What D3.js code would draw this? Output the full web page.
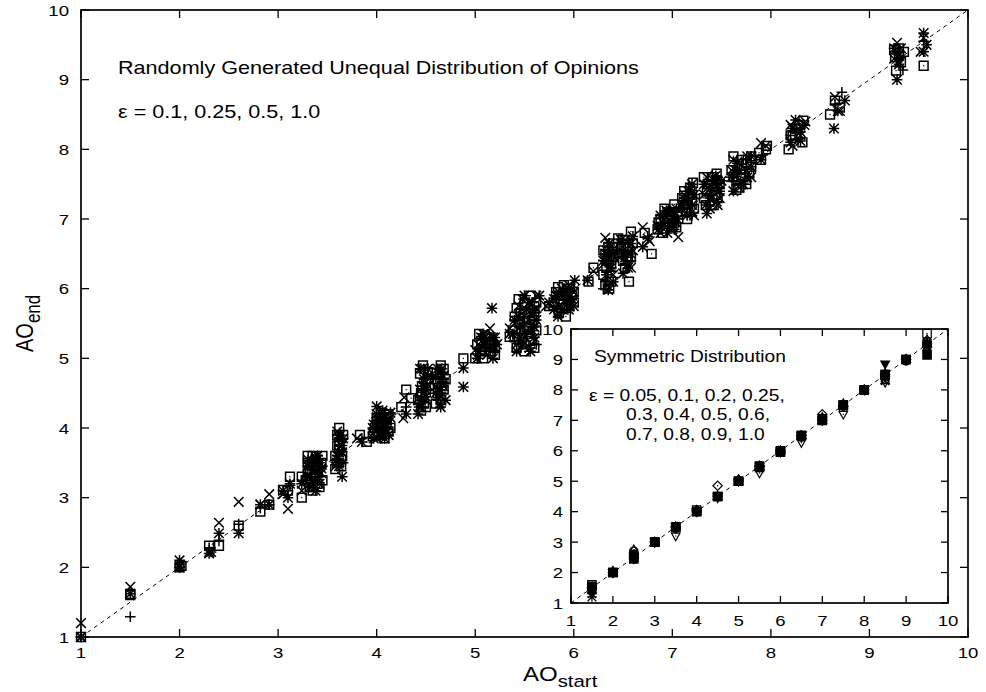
<!DOCTYPE html>
<html><head><meta charset="utf-8">
<script src="https://cdn.jsdelivr.net/npm/d3@7"></script>
<style>body{margin:0;background:#fff} text{font-family:"Liberation Sans",Arial,sans-serif;fill:#000}</style>
</head><body><svg id="c" width="986" height="692"></svg>
<script>
// ---------- data ----------
const axisTicks = [1,2,3,4,5,6,7,8,9,10];
const mainLabel1 = "Randomly Generated Unequal Distribution of Opinions";
const mainLabel2 = "ε = 0.1, 0.25, 0.5, 1.0";
const insetLabel1 = "Symmetric Distribution";
const insetLabel2 = ["ε = 0.05, 0.1, 0.2, 0.25,", "0.3, 0.4, 0.5, 0.6,", "0.7, 0.8, 0.9, 1.0"];

// main plot series [AO_start, AO_end]
const eps010 = [[1.0,1.0],[1.5,1.29],[2.0,2.0],[2.3,2.28],[2.4,2.39],[2.6,2.62],[2.82,2.85],[2.9,2.9],[3.1,3.1],[3.12,3.18],[3.25,3.25],[3.33,3.3],[3.38,3.4],[3.45,3.45],[3.6,3.55],[3.65,3.66],[3.85,3.85],[4.0,4.0],[4.05,4.08],[4.1,4.1],[4.3,4.3],[4.45,4.45],[4.5,4.55],[4.65,4.6],[4.68,4.7],[5.05,5.05],[5.15,5.15],[5.45,5.45],[5.5,5.5],[5.55,5.6],[5.6,5.55],[5.85,5.85],[5.95,5.95],[6.0,6.02],[6.35,6.35],[6.4,6.4],[6.5,6.5],[6.55,6.55],[6.75,6.75],[6.9,6.9],[7.0,7.0],[7.15,7.15],[7.2,7.2],[7.4,7.4],[7.45,7.45],[7.65,7.65],[7.7,7.7],[7.75,7.75],[7.92,7.92],[8.2,8.2],[8.3,8.3],[8.65,8.65],[8.72,8.82],[9.3,9.3],[9.34,9.14],[9.55,9.55],
  [3.3,3.2],[3.35,3.5],[3.42,3.3],[3.4,3.55],[3.62,3.75],[3.6,3.9],[3.66,3.5],[3.98,3.95],[4.08,4.2],[4.12,3.98],[4.47,4.3],[4.5,4.7],[4.45,4.85],[4.62,4.4],[4.67,4.8],[5.08,5.2],[5.15,5.3],[5.2,5.1],[5.4,5.25],[5.45,5.7],[5.52,5.35],[5.58,5.8],[5.62,5.2],[5.82,5.75],[5.9,6.0],[5.97,5.8],[6.32,6.1],[6.36,6.55],[6.38,6.25],[6.48,6.65],[6.58,6.4],[6.88,6.95],[6.95,7.1],[7.02,6.85],[7.12,7.3],[7.18,7.1],[7.35,7.5],[7.42,7.25],[7.46,7.6],[7.62,7.55],[7.72,7.85],[7.78,7.6],[8.25,8.15],[8.32,8.35],[9.28,9.4],
  [5.42,5.6],[5.5,5.35],[5.56,5.15],[5.6,5.75],[5.88,5.9],[5.94,5.7],[6.34,6.6],[6.3,6.0],[6.52,6.35],[6.56,6.7],[6.9,7.05],[7.04,7.1],[7.14,7.4],[7.2,7.05],[7.38,7.2],[7.44,7.55],[7.66,7.8],[7.74,7.5],[4.02,4.15],[4.1,3.9],[4.46,4.6],[4.66,4.5],[5.1,5.1],[5.18,5.25]];
const eps025 = [[1.0,1.2],[1.0,1.0],[1.5,1.72],[2.0,2.02],[2.3,2.22],[2.4,2.64],[2.6,2.94],[2.82,2.9],[2.91,3.05],[3.05,3.05],[3.1,2.84],[3.24,3.1],[3.3,3.3],[3.35,3.4],[3.4,3.55],[3.42,3.2],[3.6,3.55],[3.65,3.65],[3.62,3.85],[3.8,3.85],[3.97,4.05],[4.0,3.85],[4.05,4.2],[4.1,3.95],[4.27,4.14],[4.28,4.44],[4.45,4.3],[4.5,4.6],[4.48,4.75],[4.65,4.45],[4.62,4.8],[5.0,5.12],[5.15,5.43],[5.1,5.25],[5.35,5.43],[5.35,5.35],[5.45,5.3],[5.5,5.6],[5.55,5.8],[5.6,5.45],[5.62,5.72],[5.72,5.75],[5.85,5.75],[5.9,5.9],[5.95,6.05],[6.2,6.25],[6.32,6.73],[6.35,6.45],[6.4,6.2],[6.5,6.6],[6.55,6.35],[6.7,6.88],[6.77,6.68],[6.85,6.9],[6.95,7.1],[7.0,6.85],[7.06,6.74],[7.15,7.3],[7.2,7.1],[7.35,7.6],[7.4,7.3],[7.48,7.5],[7.6,7.7],[7.7,7.55],[7.78,7.85],[7.9,8.09],[7.95,8.05],[8.2,8.35],[8.3,8.2],[8.65,8.75],[8.7,8.55],[9.28,9.53],[9.3,9.25],[9.55,9.6],[9.52,9.4],
  [3.32,3.45],[3.38,3.15],[3.44,3.35],[3.3,3.55],[3.36,3.25],[3.58,3.45],[3.64,3.75],[3.6,3.95],[3.96,3.92],[4.02,4.12],[4.08,4.02],[4.14,4.15],[4.04,3.88],[4.44,4.55],[4.5,4.4],[4.46,4.85],[4.6,4.6],[4.68,4.75],[4.64,4.35],[5.03,5.2],[5.12,5.05],[5.18,5.3],[5.4,5.5],[5.42,5.2],[5.48,5.85],[5.52,5.4],[5.58,5.65],[5.6,5.25],[5.55,5.15],[5.8,5.85],[5.88,6.0],[5.95,5.7],[6.0,5.95],[6.3,6.35],[6.34,6.05],[6.38,6.6],[6.46,6.45],[6.52,6.7],[6.6,6.55],[6.88,6.8],[6.92,7.0],[7.0,7.12],[7.04,6.95],[7.1,7.2],[7.16,7.4],[7.22,7.05],[7.32,7.35],[7.38,7.15],[7.44,7.55],[7.48,7.3],[7.62,7.85],[7.68,7.45],[7.75,7.7],[7.8,7.6],[8.22,8.05],[8.28,8.3],[8.35,8.4],[9.25,9.3],[9.32,9.45],
  [5.44,5.75],[5.5,5.3],[5.58,5.5],[5.62,5.9],[5.84,5.65],[5.92,5.8],[6.36,6.3],[6.4,6.5],[6.5,6.5],[6.58,6.3],[6.94,6.9],[7.02,7.05],[7.12,7.35],[7.18,7.25],[7.36,7.45],[7.46,7.2],[7.64,7.6],[7.76,7.9],[4.0,4.2],[4.12,3.9],[4.48,4.5],[4.68,4.6],[5.06,5.3],[5.2,5.15]];
const eps050 = [[1.0,1.0],[1.5,1.62],[2.0,2.1],[2.0,2.0],[2.3,2.2],[2.32,2.22],[2.4,2.49],[2.6,2.49],[2.82,2.9],[2.91,2.9],[3.05,3.1],[3.1,3.0],[3.12,3.2],[3.24,3.2],[3.32,3.15],[3.35,3.25],[3.4,3.35],[3.42,3.5],[3.3,3.45],[3.38,3.58],[3.65,3.3],[3.62,3.45],[3.6,3.6],[3.65,3.75],[3.63,3.9],[3.85,3.8],[4.0,4.31],[3.97,3.85],[4.02,4.0],[4.08,4.15],[4.12,3.9],[4.06,4.25],[4.3,4.2],[4.42,4.2],[4.45,4.4],[4.5,4.55],[4.48,4.7],[4.52,4.85],[4.6,4.5],[4.65,4.3],[4.68,4.65],[4.66,4.85],[4.88,4.86],[4.88,4.59],[5.02,5.0],[5.1,5.2],[5.2,5.3],[5.17,5.72],[5.42,5.1],[5.45,5.3],[5.5,5.5],[5.52,5.7],[5.58,5.4],[5.6,5.65],[5.65,5.9],[5.75,5.8],[5.8,5.7],[5.85,5.95],[5.92,5.85],[6.0,5.75],[6.01,6.12],[6.14,6.12],[6.35,5.98],[6.33,6.2],[6.38,6.5],[6.5,6.22],[6.52,6.45],[6.58,6.65],[6.7,6.6],[6.75,6.72],[6.9,6.95],[6.95,6.8],[7.02,7.05],[7.15,7.05],[7.22,7.35],[7.35,7.08],[7.4,7.45],[7.45,7.25],[7.5,7.55],[7.62,7.4],[7.68,7.7],[7.8,7.9],[7.9,7.85],[8.2,8.1],[8.25,8.42],[8.3,8.25],[8.64,8.3],[8.68,8.55],[8.75,8.7],[9.3,9.35],[9.28,9.0],[9.55,9.4],[9.55,9.67],[9.58,9.5],
  [3.3,3.3],[3.34,3.52],[3.38,3.1],[3.44,3.42],[3.4,3.6],[3.6,3.5],[3.66,3.85],[3.62,3.65],[3.96,4.0],[4.04,3.95],[4.1,4.05],[4.14,4.22],[4.0,4.15],[4.43,4.3],[4.47,4.6],[4.5,4.45],[4.52,4.75],[4.6,4.72],[4.64,4.55],[4.7,4.4],[5.04,5.1],[5.1,5.3],[5.18,5.0],[5.22,5.2],[5.38,5.35],[5.44,5.6],[5.48,5.2],[5.55,5.8],[5.6,5.3],[5.62,5.55],[5.46,5.45],[5.82,5.9],[5.88,5.7],[5.95,6.0],[5.98,5.85],[6.3,6.4],[6.36,6.65],[6.4,6.1],[6.46,6.55],[6.55,6.3],[6.6,6.75],[6.86,6.85],[6.94,7.12],[7.0,6.92],[7.05,7.0],[7.1,7.15],[7.18,7.42],[7.2,7.2],[7.32,7.5],[7.38,7.3],[7.44,7.62],[7.48,7.4],[7.6,7.6],[7.66,7.82],[7.72,7.5],[7.8,7.75],[8.22,8.3],[8.3,8.12],[8.34,8.35],[9.3,9.22],[9.25,9.45],
  [5.4,5.55],[5.5,5.9],[5.56,5.1],[5.6,5.45],[5.84,5.6],[5.96,5.75],[6.32,6.5],[6.38,6.3],[6.48,6.7],[6.58,6.5],[6.88,7.05],[7.04,7.15],[7.12,7.25],[7.2,7.5],[7.34,7.2],[7.42,7.55],[7.64,7.7],[7.76,7.6],[4.02,4.1],[4.08,3.85],[4.44,4.85],[4.62,4.85],[5.08,5.35],[5.14,5.15]];
const eps100 = [[1.0,1.0],[1.5,1.6],[1.5,1.62],[2.0,2.0],[2.02,2.02],[2.3,2.31],[2.4,2.31],[2.6,2.6],[2.82,2.8],[2.91,2.9],[3.05,3.11],[3.12,3.3],[3.1,3.1],[3.24,3.0],[3.24,3.3],[3.3,3.6],[3.35,3.6],[3.45,3.6],[3.3,3.5],[3.35,3.1],[3.4,3.2],[3.38,3.3],[3.32,3.4],[3.42,3.15],[3.62,4.0],[3.6,3.9],[3.62,3.8],[3.58,3.41],[3.6,3.5],[3.65,3.6],[3.62,3.7],[3.83,3.9],[3.9,3.8],[3.98,4.0],[4.02,3.9],[4.05,4.1],[4.1,4.05],[4.12,4.2],[4.0,4.15],[4.25,4.3],[4.35,4.43],[4.3,4.55],[4.47,4.9],[4.45,4.5],[4.5,4.65],[4.48,4.35],[4.52,4.8],[4.45,4.25],[4.65,4.9],[4.62,4.7],[4.68,4.55],[4.65,4.4],[4.88,5.0],[5.0,5.0],[5.05,5.1],[5.1,5.33],[5.15,5.2],[5.2,5.05],[5.35,5.31],[5.42,5.72],[5.56,5.9],[5.45,5.5],[5.5,5.2],[5.55,5.35],[5.6,5.6],[5.4,5.3],[5.62,5.8],[5.75,5.75],[5.92,5.6],[5.85,5.9],[5.9,6.05],[5.95,5.75],[6.0,5.95],[6.15,6.1],[6.2,6.3],[6.33,6.3],[6.35,6.6],[6.38,6.1],[6.4,6.45],[6.58,6.82],[6.56,6.1],[6.5,6.4],[6.55,6.6],[6.45,6.72],[6.79,6.5],[6.72,6.8],[6.85,6.85],[6.95,7.0],[7.02,7.21],[7.0,6.9],[7.05,7.1],[7.21,7.52],[7.15,7.0],[7.2,7.25],[7.32,7.6],[7.35,7.4],[7.4,7.2],[7.45,7.65],[7.42,7.2],[7.65,7.42],[7.62,7.9],[7.7,7.6],[7.75,7.8],[7.8,7.9],[7.88,7.95],[7.95,8.0],[8.18,8.0],[8.33,8.41],[8.25,8.3],[8.2,8.2],[8.6,8.5],[8.65,8.7],[8.7,8.6],[9.25,9.43],[9.3,9.35],[9.27,9.13],[9.35,9.4],[9.55,9.2],
  [3.28,3.25],[3.32,3.15],[3.36,3.45],[3.4,3.4],[3.44,3.5],[3.3,3.35],[3.38,3.55],[3.45,3.25],[3.58,3.6],[3.64,3.45],[3.66,3.9],[3.6,3.75],[3.64,3.55],[3.96,3.88],[4.0,4.05],[4.06,3.95],[4.1,4.15],[4.14,4.0],[4.04,4.22],[4.08,3.85],[4.42,4.4],[4.46,4.6],[4.5,4.3],[4.52,4.7],[4.44,4.78],[4.6,4.35],[4.64,4.8],[4.66,4.6],[4.7,4.7],[4.62,4.5],[5.02,5.2],[5.08,5.0],[5.14,5.3],[5.2,5.15],[5.04,5.35],[5.38,5.4],[5.42,5.15],[5.46,5.65],[5.5,5.8],[5.52,5.45],[5.56,5.25],[5.6,5.75],[5.62,5.4],[5.48,5.3],[5.58,5.55],[5.8,5.8],[5.85,5.65],[5.9,5.9],[5.96,6.0],[6.0,5.8],[5.84,6.02],[6.3,6.2],[6.32,6.5],[6.36,6.0],[6.4,6.65],[6.34,6.4],[6.46,6.5],[6.5,6.7],[6.55,6.45],[6.6,6.65],[6.52,6.3],[6.86,6.95],[6.9,6.8],[6.95,7.1],[7.0,7.0],[7.04,6.88],[7.1,7.3],[7.14,7.1],[7.18,7.45],[7.22,7.15],[7.12,7.4],[7.32,7.3],[7.36,7.5],[7.4,7.6],[7.44,7.35],[7.48,7.5],[7.6,7.7],[7.65,7.55],[7.7,7.85],[7.75,7.5],[7.8,7.75],[7.9,7.85],[7.96,8.05],[8.22,8.2],[8.28,8.35],[8.32,8.1],[9.26,9.32],[9.32,9.25],[9.3,9.45],
  [5.4,5.6],[5.44,5.85],[5.5,5.1],[5.54,5.65],[5.6,5.15],[5.82,5.95],[5.88,5.72],[5.98,5.9],[6.3,6.55],[6.38,6.35],[6.32,6.05],[6.48,6.6],[6.58,6.45],[6.88,7.0],[6.92,7.15],[7.02,6.95],[7.12,7.2],[7.2,7.35],[7.34,7.2],[7.42,7.45],[7.46,7.3],[7.62,7.6],[7.68,7.45],[7.78,7.65],[4.04,4.1],[4.12,3.95],[4.46,4.45],[4.5,4.55],[4.62,4.65],[4.68,4.85],[5.06,5.25],[5.16,5.1]];

// inset series: AO_start values and AO_end for each epsilon
const insetX = [1.5,2,2.5,3,3.5,4,4.5,5,5.5,6,6.5,7,7.5,8,8.5,9,9.5];
const sym005 = [1.45,2.0,2.45,3.0,3.5,4.0,4.5,5.0,5.5,5.95,6.5,7.0,7.5,8.0,8.5,9.0,9.5];
const sym010 = [1.3,2.0,2.5,3.0,3.45,4.0,4.5,5.0,5.45,5.95,6.5,7.0,7.45,8.0,8.3,9.0,9.55];
const sym020 = [1.2,2.0,2.5,3.0,3.5,4.0,4.5,5.0,5.5,5.95,6.5,7.0,7.5,8.0,8.4,9.0,9.45];
const sym025 = [1.6,2.0,2.5,3.0,3.5,4.05,4.5,5.0,5.5,6.0,6.5,7.05,7.5,8.0,8.5,9.0,9.85];
const sym030 = [1.55,2.0,2.45,3.0,3.5,4.0,4.5,5.0,5.45,5.95,6.5,7.0,7.5,8.0,8.5,9.0,9.15];
const sym040 = [1.5,2.0,2.7,3.0,3.45,4.0,4.5,5.0,5.45,5.95,6.45,7.0,7.5,8.0,8.45,9.0,9.6];
const sym050 = [1.5,2.0,2.6,3.0,3.5,4.0,4.5,5.0,5.5,5.95,6.5,7.05,7.5,8.0,8.5,8.95,9.5];
const sym060 = [1.45,2.0,2.75,3.0,3.5,4.0,4.5,5.05,5.5,6.0,6.5,7.1,7.5,8.0,8.3,9.0,9.65];
const sym070 = [1.4,2.05,2.55,3.0,3.5,4.0,4.5,5.0,5.45,6.0,6.5,7.0,7.55,8.0,8.55,9.0,9.55];
const sym080 = [1.35,2.0,2.45,3.0,3.2,4.0,4.45,5.0,5.27,5.95,6.27,7.0,7.2,8.0,8.25,9.0,9.4];
const sym090 = [1.5,2.0,2.5,3.0,3.5,4.0,4.5,5.0,5.5,6.0,6.5,7.0,7.5,8.0,8.85,9.0,9.5];
const sym100 = [1.5,2.0,2.5,3.0,3.5,4.05,4.85,5.05,5.5,6.0,6.5,7.2,7.45,8.0,8.5,9.0,9.4];

// ---------- drawing ----------
const svg = d3.select("#c");
const SX = 1.2; // horizontal text stretch of original

function stext(g, x, y, str, size, anchor, rot) {
  const t = g.append("text")
    .attr("transform", `translate(${x},${y})` + (rot ? ` rotate(${rot})` : "") + ` scale(${rot ? 1 : SX},${rot ? SX : 1})`)
    .attr("font-size", size).attr("text-anchor", anchor || "start");
  if (Array.isArray(str)) {
    str.forEach(([s, sub]) => {
      const ts = t.append("tspan").text(s);
      if (sub) ts.attr("font-size", size * 0.85).attr("dy", size * 0.3);
    });
  } else t.text(str);
  return t;
}

const shapes = {
  plus: s => `M${-s},0H${s}M0,${-s}V${s}`,
  cross: s => `M${-s},${-s}L${s},${s}M${-s},${s}L${s},${-s}`,
  star: s => `M${-s},0H${s}M0,${-s}V${s}M${-s*0.9},${-s*0.9}L${s*0.9},${s*0.9}M${-s*0.9},${s*0.9}L${s*0.9},${-s*0.9}`,
  square: s => `M${-s},${-s}H${s}V${s}H${-s}Z`,
  circle: s => `M${-s},0A${s},${s} 0 1,0 ${s},0A${s},${s} 0 1,0 ${-s},0Z`,
  tri: s => `M0,${-s*1.2}L${s*1.1},${s*0.75}H${-s*1.1}Z`,
  itri: s => `M0,${s*1.2}L${s*1.1},${-s*0.75}H${-s*1.1}Z`,
  diamond: s => `M0,${-s*1.2}L${s*1.2},0L0,${s*1.2}L${-s*1.2},0Z`
};

function drawPoints(g, pts, x, y, shape, size, filled, sw) {
  g.append("g").selectAll("path").data(pts).join("path")
    .attr("transform", d => `translate(${x(d[0])},${y(d[1])})`)
    .attr("d", shapes[shape](size))
    .attr("fill", filled ? "#000" : "none")
    .attr("stroke", "#000").attr("stroke-width", sw);
  if (!filled) {
    g.append("g").selectAll("rect").data(pts).join("rect")
      .attr("x", d => x(d[0]) - 0.6).attr("y", d => y(d[1]) - 0.6)
      .attr("width", 1.2).attr("height", 1.2).attr("fill", "#000");
  }
}

function drawFrame(g, x, y, tickLen, fs, labOffX, labOffY) {
  const [x0, x1] = x.range(), [y0, y1] = y.range();
  const tg = g.append("g").attr("stroke", "#000").attr("stroke-width", 1.3);
  axisTicks.forEach(v => {
    tg.append("line").attr("x1", x(v)).attr("x2", x(v)).attr("y1", y0).attr("y2", y0 - tickLen);
    tg.append("line").attr("x1", x(v)).attr("x2", x(v)).attr("y1", y1).attr("y2", y1 + tickLen);
    tg.append("line").attr("y1", y(v)).attr("y2", y(v)).attr("x1", x0).attr("x2", x0 + tickLen);
    tg.append("line").attr("y1", y(v)).attr("y2", y(v)).attr("x1", x1).attr("x2", x1 - tickLen);
  });
  g.append("rect").attr("x", x0).attr("y", y1).attr("width", x1 - x0).attr("height", y0 - y1)
    .attr("fill", "none").attr("stroke", "#000").attr("stroke-width", 1.7);
  axisTicks.forEach(v => {
    stext(g, x(v), y0 + labOffY, String(v), fs, "middle");
    stext(g, x0 - labOffX, y(v) + fs * 0.36, String(v), fs, "end");
  });
}

// ---- main plot ----
const mx = d3.scaleLinear().domain([1, 10]).range([81, 968]);
const my = d3.scaleLinear().domain([1, 10]).range([637, 10]);
const gm = svg.append("g");
gm.append("line").attr("x1", mx(1)).attr("y1", my(1)).attr("x2", mx(10)).attr("y2", my(10))
  .attr("stroke", "#000").attr("stroke-width", 1).attr("stroke-dasharray", "4,4");
drawPoints(gm, eps010, mx, my, "plus", 5.3, false, 1.5);
drawPoints(gm, eps025, mx, my, "cross", 4.8, false, 1.5);
drawPoints(gm, eps050, mx, my, "star", 5.3, false, 1.5);
drawPoints(gm, eps100, mx, my, "square", 4.4, false, 1.5);
drawFrame(gm, mx, my, 8, 15.5, 12, 21);
stext(gm, 118, 74, mainLabel1, 18, "start");
stext(gm, 118, 118, mainLabel2, 18, "start");
stext(gm, 523, 681, [["AO"], ["start", true]], 20, "start");
stext(gm, 33, 352, [["AO"], ["end", true]], 20, "start", -90);

// ---- inset ----
const ix = d3.scaleLinear().domain([1, 10]).range([571, 948]);
const iy = d3.scaleLinear().domain([1, 10]).range([603, 329]);
const gi = svg.append("g");
gi.append("rect").attr("x", 571).attr("y", 329).attr("width", 377).attr("height", 274).attr("fill", "#fff");
gi.append("line").attr("x1", ix(1)).attr("y1", iy(1)).attr("x2", ix(10)).attr("y2", iy(10))
  .attr("stroke", "#000").attr("stroke-width", 1).attr("stroke-dasharray", "4,4");
const insetSeries = [
  [sym005, "plus", 4.8, false], [sym010, "cross", 4.2, false], [sym020, "star", 4.8, false],
  [sym025, "square", 4.2, false], [sym030, "square", 4.2, true], [sym040, "circle", 4.2, false],
  [sym050, "circle", 4.2, true], [sym060, "tri", 3.9, false], [sym070, "tri", 3.9, true],
  [sym080, "itri", 3.9, false], [sym090, "itri", 3.9, true], [sym100, "diamond", 3.9, false]
];
insetSeries.forEach(([ys, shp, sz, f]) => {
  drawPoints(gi, insetX.map((v, i) => [v, ys[i]]), ix, iy, shp, sz, f, 1.2);
});
drawFrame(gi, ix, iy, 7, 15.5, 8, 23);
stext(gi, 594, 362, insetLabel1, 16, "start");
stext(gi, 589, 401, insetLabel2[0], 16, "start");
stext(gi, 626, 420, insetLabel2[1], 16, "start");
stext(gi, 626, 440, insetLabel2[2], 16, "start");
</script></body></html>
